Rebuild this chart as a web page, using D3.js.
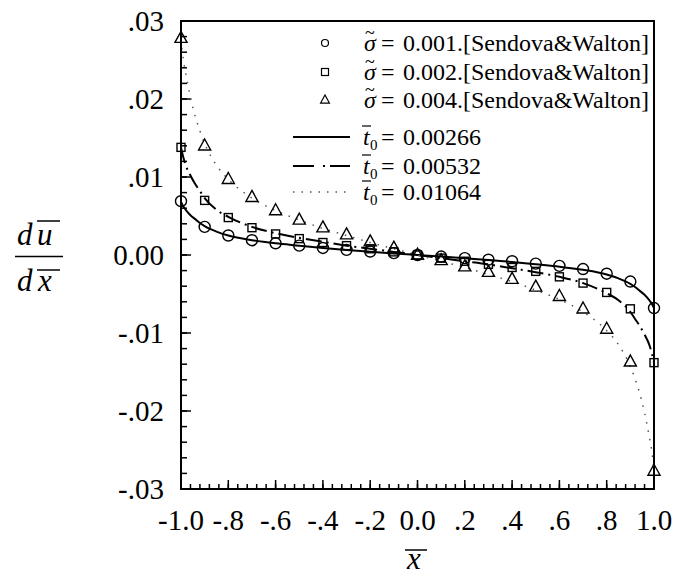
<!DOCTYPE html>
<html><head><meta charset="utf-8">
<script src="https://cdn.jsdelivr.net/npm/d3@7"></script>
</head><body style="margin:0">
<svg id="c" width="676" height="576"></svg>
<script>
// marker data (x = -1.0 .. 1.0 step 0.1)
const markerX = [-1.0,-0.9,-0.8,-0.7,-0.6,-0.5,-0.4,-0.3,-0.2,-0.1,0.0,0.1,0.2,0.3,0.4,0.5,0.6,0.7,0.8,0.9,1.0];
const sigma001 = [0.0069,0.0036,0.0025,0.0019,0.0015,0.0012,0.0009,0.00066,0.00044,0.00024,0.0,-0.0002,-0.0004,-0.0006,-0.0008,-0.0011,-0.0014,-0.0018,-0.0024,-0.0034,-0.0068];
const sigma002 = [0.0138,0.0070,0.0048,0.0035,0.0027,0.0021,0.0016,0.0012,0.0008,0.0004,0.0,-0.0004,-0.0008,-0.0012,-0.0016,-0.0021,-0.0028,-0.0036,-0.0048,-0.0069,-0.0138];
const sigma004 = [0.0278,0.0140,0.0097,0.0074,0.0057,0.0045,0.0035,0.0026,0.0017,0.0009,0.0,-0.0007,-0.0015,-0.0022,-0.0031,-0.0041,-0.0053,-0.0069,-0.0095,-0.0137,-0.0277];
// curve data
const lineX = [-1.0,-0.99,-0.98,-0.96,-0.94,-0.92,-0.9,-0.85,-0.8,-0.7,-0.6,-0.5,-0.4,-0.3,-0.2,-0.1,0.0,0.1,0.2,0.3,0.4,0.5,0.6,0.7,0.8,0.85,0.9,0.92,0.94,0.96,0.98,0.99,1.0];
const t00266 = [0.0068,0.0062,0.0058,0.0051,0.0046,0.0041,0.0037,0.0030,0.0025,0.0019,0.0015,0.0012,0.0009,0.00065,0.00043,0.0002,0.0,-0.0002,-0.00043,-0.00065,-0.0009,-0.0012,-0.0015,-0.0019,-0.0025,-0.0030,-0.0037,-0.0041,-0.0046,-0.0051,-0.0058,-0.0062,-0.0068];
const t00532 = [0.0138,0.0125,0.0115,0.0102,0.0091,0.0082,0.0073,0.0058,0.0049,0.0036,0.0028,0.0022,0.0017,0.0012,0.0008,0.0004,0.0,-0.0004,-0.0008,-0.0012,-0.0017,-0.0022,-0.0028,-0.0036,-0.0049,-0.0058,-0.0073,-0.0082,-0.0091,-0.0102,-0.0115,-0.0125,-0.0138];
const t01064 = [0.0276,0.0250,0.0233,0.0202,0.0178,0.0159,0.0143,0.0115,0.0097,0.0073,0.0057,0.0045,0.0034,0.0025,0.0016,0.0008,0.0,-0.0008,-0.0016,-0.0025,-0.0034,-0.0045,-0.0057,-0.0073,-0.0097,-0.0115,-0.0143,-0.0159,-0.0178,-0.0202,-0.0233,-0.0250,-0.0276];
// ticks
const xTickVals = [-1.0,-0.8,-0.6,-0.4,-0.2,0.0,0.2,0.4,0.6,0.8,1.0];
const xTickLabels = ["-1.0","-.8","-.6","-.4","-.2","0.0",".2",".4",".6",".8","1.0"];
const yTickVals = [0.03,0.02,0.01,0.0,-0.01,-0.02,-0.03];
const yTickLabels = [".03",".02",".01","0.00","-.01","-.02","-.03"];
const sigmaLabels = ["0.001","0.002","0.004"];
const t0Labels = ["0.00266","0.00532","0.01064"];

const FONT = '"Liberation Serif", monospace';
const svg = d3.select("#c");
const L=181,R=654,T=21,B=489;
const x = d3.scaleLinear().domain([-1,1]).range([L,R]);
const y = d3.scaleLinear().domain([-0.03,0.03]).range([B,T]);
function txt(parent){ return parent.append("text").style("font-family",FONT); }

// ticks
const g = svg.append("g");
const xMinor = d3.range(0,51).map(i=>-1+i*0.04);
const yMinor = d3.range(0,31).map(i=>-0.03+i*0.002);
g.selectAll(".xm").data(xMinor).join("line")
  .attr("x1",d=>x(d)).attr("x2",d=>x(d)).attr("y1",B).attr("y2",B-5).attr("stroke","#000").attr("stroke-width",1.5);
g.selectAll(".ym").data(yMinor).join("line")
  .attr("y1",d=>y(d)).attr("y2",d=>y(d)).attr("x1",L).attr("x2",L+6).attr("stroke","#000").attr("stroke-width",1.5);
g.selectAll(".xM").data(xTickVals).join("line")
  .attr("x1",d=>x(d)).attr("x2",d=>x(d)).attr("y1",B).attr("y2",B-9).attr("stroke","#000").attr("stroke-width",1.5);
g.selectAll(".yM").data(yTickVals).join("line")
  .attr("y1",d=>y(d)).attr("y2",d=>y(d)).attr("x1",L).attr("x2",L+10).attr("stroke","#000").attr("stroke-width",1.5);

// tick labels
svg.selectAll(".xl").data(xTickVals).join("text").style("font-family",FONT)
  .attr("x",d=>x(d)).attr("y",530).attr("text-anchor","middle").attr("font-size",29)
  .text((d,i)=>xTickLabels[i]);
svg.selectAll(".yl").data(yTickVals).join("text").style("font-family",FONT)
  .attr("x",164).attr("y",d=>y(d)+10).attr("text-anchor","end").attr("font-size",29)
  .text((d,i)=>yTickLabels[i]);

// curves
const line = d3.line().x(d=>x(d[0])).y(d=>y(d[1])).curve(d3.curveMonotoneX);
const series = [
  {v:t00266, dash:null, w:2, c:"#000"},
  {v:t00532, dash:"16,5,2,5", w:2, c:"#000"},
  {v:t01064, dash:"1.5,7", w:1.5, c:"#555"}
];
series.forEach(s=>{
  svg.append("path").datum(lineX.map((xx,i)=>[xx,s.v[i]])).attr("d",line)
    .attr("fill","none").attr("stroke",s.c).attr("stroke-width",s.w)
    .attr("stroke-dasharray",s.dash);
});

// markers
function tri(cx,cy,s){return `M${cx},${cy-s*0.62}L${cx+s*0.55},${cy+s*0.38}L${cx-s*0.55},${cy+s*0.38}Z`;}
svg.selectAll(".m1").data(markerX).join("circle")
  .attr("cx",d=>x(d)).attr("cy",(d,i)=>y(sigma001[i])).attr("r",5.5)
  .attr("fill","none").attr("stroke","#000").attr("stroke-width",1.4);
svg.selectAll(".m2").data(markerX).join("rect")
  .attr("x",d=>x(d)-4).attr("y",(d,i)=>y(sigma002[i])-4).attr("width",8).attr("height",8)
  .attr("fill","none").attr("stroke","#000").attr("stroke-width",1.4);
svg.selectAll(".m3").data(markerX).join("path")
  .attr("d",(d,i)=>tri(x(d),y(sigma004[i]),11))
  .attr("fill","none").attr("stroke","#000").attr("stroke-width",1.4);

// frame
svg.append("rect").attr("x",L).attr("y",T).attr("width",R-L).attr("height",B-T)
  .attr("fill","none").attr("stroke","#000").attr("stroke-width",2);

// legend
const lg = svg.append("g");
const rowY = [43,72,100];
lg.append("circle").attr("cx",325).attr("cy",rowY[0]).attr("r",3.5).attr("fill","none").attr("stroke","#000").attr("stroke-width",1.2);
lg.append("rect").attr("x",321.5).attr("y",rowY[1]-3.5).attr("width",7).attr("height",7).attr("fill","none").attr("stroke","#000").attr("stroke-width",1.2);
lg.append("path").attr("d",tri(325,rowY[2],8)).attr("fill","none").attr("stroke","#000").attr("stroke-width",1.2);
sigmaLabels.forEach((s,i)=>{
  const by = rowY[i]+8;
  txt(lg).attr("x",364).attr("y",by).attr("font-size",24).attr("font-style","italic").text("\u03C3");
  txt(lg).attr("x",365).attr("y",by-12).attr("font-size",18).text("~");
  const t = txt(lg).attr("x",381).attr("y",by).attr("font-size",24);
  t.append("tspan").text("=");
  t.append("tspan").attr("x",403).text(s+".[Sendova&Walton]");
});
const lineRowY = [137,166,192];
series.forEach((s,i)=>{
  lg.append("line").attr("x1",293).attr("x2",350).attr("y1",lineRowY[i]).attr("y2",lineRowY[i])
    .attr("stroke",s.c).attr("stroke-width",i==2?1.5:2)
    .attr("stroke-dasharray",i==1?"21,9,2,5":(i==2?"1.5,7":null));
  const ty = lineRowY[i]+8;
  txt(lg).attr("x",363).attr("y",ty).attr("font-size",24).attr("font-style","italic").text("t");
  lg.append("line").attr("x1",362).attr("x2",371).attr("y1",ty-19).attr("y2",ty-19).attr("stroke","#000").attr("stroke-width",1.2);
  txt(lg).attr("x",370).attr("y",ty+5).attr("font-size",15).text("0");
  const t2 = txt(lg).attr("x",381).attr("y",ty).attr("font-size",24);
  t2.append("tspan").text("=");
  t2.append("tspan").attr("x",403).text(t0Labels[i]);
});

// y label
const yl = svg.append("g");
txt(yl).attr("x",17).attr("y",245).attr("font-size",31).attr("font-style","italic").text("d");
txt(yl).attr("x",37).attr("y",245).attr("font-size",31).attr("font-style","italic").text("u");
yl.append("line").attr("x1",37).attr("x2",60).attr("y1",221).attr("y2",221).attr("stroke","#000").attr("stroke-width",1.5);
yl.append("line").attr("x1",15).attr("x2",63).attr("y1",256.5).attr("y2",256.5).attr("stroke","#000").attr("stroke-width",1.5);
txt(yl).attr("x",17).attr("y",291).attr("font-size",31).attr("font-style","italic").text("d");
txt(yl).attr("x",38).attr("y",291).attr("font-size",31).attr("font-style","italic").text("x");
yl.append("line").attr("x1",37).attr("x2",60).attr("y1",270).attr("y2",270).attr("stroke","#000").attr("stroke-width",1.5);
// x label
txt(svg).attr("x",407).attr("y",569).attr("font-size",31).attr("font-style","italic").text("x");
svg.append("line").attr("x1",405).attr("x2",427).attr("y1",550).attr("y2",550).attr("stroke","#000").attr("stroke-width",1.5);
</script></body></html>
